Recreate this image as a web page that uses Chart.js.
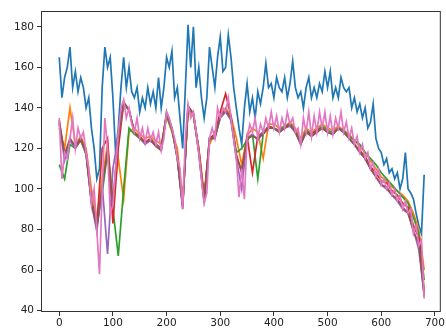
<!DOCTYPE html>
<html>
<head>
<meta charset="utf-8">
<script src="https://cdn.jsdelivr.net/npm/chart.js@4.4.1/dist/chart.umd.min.js"></script>
<style>
  html, body { margin: 0; padding: 0; background: #fff; }
</style>
</head>
<body>
<canvas id="chart" width="446" height="329"></canvas>
<script>
// sample positions
const xFine = [0, 5, 10, 15, 20, 25, 30, 35, 40, 45, 50, 55, 60, 65, 70, 75, 80, 85, 90, 95,
  100, 105, 110, 115, 120, 125, 130, 135, 140, 145, 150, 155, 160, 165, 170, 175, 180, 185, 190, 195,
  200, 205, 210, 215, 220, 225, 230, 235, 240, 245, 250, 255, 260, 265, 270, 275, 280, 285, 290, 295,
  300, 305, 310, 315, 320, 325, 330, 335, 340, 345, 350, 355, 360, 365, 370, 375, 380, 385, 390, 395,
  400, 405, 410, 415, 420, 425, 430, 435, 440, 445, 450, 455, 460, 465, 470, 475, 480, 485, 490, 495,
  500, 505, 510, 515, 520, 525, 530, 535, 540, 545, 550, 555, 560, 565, 570, 575, 580, 585, 590, 595,
  600, 605, 610, 615, 620, 625, 630, 635, 640, 645, 650, 655, 660, 665, 670, 675, 680];
const xCoarse = [0, 10, 20, 30, 40, 50, 60, 70, 80, 90, 100, 110, 120, 130, 140, 150, 160, 170, 180, 190,
  200, 210, 220, 230, 240, 250, 260, 270, 280, 290, 300, 310, 320, 330, 340, 350, 360, 370, 380, 390,
  400, 410, 420, 430, 440, 450, 460, 470, 480, 490, 500, 510, 520, 530, 540, 550, 560, 570, 580, 590,
  600, 610, 620, 630, 640, 650, 660, 670, 680];

const blueVals = [165, 145, 155, 160, 170, 150, 158, 148, 155, 150, 140, 145, 130, 120, 105, 110, 150, 170, 160, 165,
  145, 118, 130, 150, 165, 150, 160, 148, 145, 150, 138, 145, 140, 150, 142, 148, 140, 155, 140, 150,
  165, 160, 168, 145, 150, 135, 120, 150, 181, 160, 180, 150, 160, 145, 135, 145, 170, 160, 150, 165,
  175, 158, 160, 176, 165, 150, 140, 130, 122, 140, 152, 138, 145, 135, 148, 142, 150, 162, 150, 152,
  145, 155, 150, 148, 155, 145, 152, 163, 150, 145, 148, 140, 150, 155, 145, 150, 145, 152, 148, 158,
  150, 158, 145, 150, 145, 155, 150, 148, 150, 140, 145, 138, 142, 135, 140, 130, 133, 142, 125, 120,
  118, 112, 115, 108, 110, 105, 108, 100, 105, 118, 100, 98, 95, 88, 82, 78, 107];

const pinkVals = [135, 105, 118, 115, 125, 135, 120, 130, 125, 128, 118, 110, 92, 100, 80, 58, 100, 135, 120, 88,
  92, 110, 128, 140, 144, 135, 140, 132, 128, 135, 125, 130, 123, 130, 124, 128, 122, 128, 119, 125,
  138, 135, 130, 125, 115, 110, 90, 125, 142, 135, 138, 128, 118, 105, 93, 98, 125, 130, 125, 140,
  135, 140, 138, 145, 135, 125, 115, 96, 110, 95, 125, 132, 128, 135, 125, 132, 128, 135, 130, 138,
  130, 136, 128, 135, 130, 138, 132, 135, 128, 130, 122, 135, 128, 138, 126, 136, 128, 138, 130, 138,
  128, 136, 127, 135, 130, 138, 128, 133, 125, 130, 122, 126, 118, 122, 115, 118, 110, 113, 106, 110,
  102, 105, 100, 103, 97, 100, 94, 97, 90, 94, 88, 90, 78, 82, 72, 75, 46];

const orangeVals = [130, 120, 140, 122, 126, 120, 100, 85, 105, 122, 95, 115, 95, 128, 130, 127, 125, 126, 124, 122,
  136, 128, 120, 95, 138, 136, 120, 98, 122, 128, 136, 140, 136, 125, 112, 126, 130, 128, 115, 132,
  132, 130, 131, 133, 130, 125, 130, 128, 130, 132, 130, 129, 131, 129, 127, 124, 121, 118, 114, 110,
  106, 104, 101, 99, 97, 94, 88, 80, 60];

const greenVals = [112, 105, 122, 120, 124, 117, 95, 82, 98, 118, 90, 67, 100, 130, 127, 125, 123, 124, 122, 120,
  136, 129, 116, 92, 140, 137, 119, 95, 124, 126, 135, 139, 134, 118, 120, 124, 127, 105, 127, 131,
  130, 129, 131, 132, 129, 123, 129, 127, 129, 131, 129, 128, 130, 129, 126, 124, 122, 118, 115, 112,
  108, 105, 102, 99, 96, 93, 86, 78, 55];

const redVals = [133, 116, 124, 121, 124, 118, 94, 82, 120, 125, 83, 120, 142, 139, 128, 126, 123, 125, 122, 120,
  137, 130, 116, 92, 140, 137, 120, 95, 125, 127, 138, 147, 136, 117, 108, 126, 108, 126, 128, 131,
  130, 128, 130, 132, 128, 123, 128, 127, 129, 130, 128, 127, 130, 128, 125, 122, 119, 116, 111, 108,
  104, 103, 99, 97, 93, 91, 82, 76, 50];

const purpleVals = [132, 114, 124, 120, 125, 117, 93, 79, 102, 68, 110, 126, 142, 139, 128, 125, 122, 124, 122, 119,
  137, 130, 115, 90, 141, 137, 118, 93, 125, 125, 135, 138, 134, 115, 100, 125, 127, 124, 128, 130,
  130, 128, 130, 131, 128, 122, 128, 126, 128, 130, 128, 127, 130, 128, 125, 122, 118, 115, 110, 106,
  102, 100, 97, 94, 90, 88, 80, 70, 48];

const brownVals = [134, 117, 125, 121, 125, 118, 93, 81, 101, 119, 93, 127, 143, 139, 128, 125, 123, 124, 121, 119,
  138, 130, 115, 91, 141, 137, 118, 94, 125, 125, 136, 139, 135, 116, 109, 125, 126, 125, 127, 130,
  130, 128, 130, 132, 128, 122, 128, 126, 128, 130, 128, 127, 130, 128, 125, 122, 118, 115, 110, 106,
  102, 101, 97, 95, 91, 88, 79, 73, 47];

const xTickVals = [0, 100, 200, 300, 400, 500, 600, 700];
const yTickVals = [40, 60, 80, 100, 120, 140, 160, 180];

function pts(xs, ys) {
  return ys.map((y, i) => ({ x: xs[i], y: y }));
}

function series(xs, ys, color, order) {
  return {
    data: pts(xs, ys),
    borderColor: color,
    borderWidth: 1.7,
    pointRadius: 0,
    tension: 0,
    fill: false,
    order: order
  };
}

// box around the axes, like matplotlib spines
const frame = {
  id: 'frame',
  afterDatasetsDraw(chart) {
    const { ctx, chartArea: a } = chart;
    ctx.save();
    ctx.strokeStyle = '#333';
    ctx.lineWidth = 1;
    ctx.strokeRect(a.left + 0.5, a.top + 0.5, a.right - a.left - 1, a.bottom - a.top - 1);
    ctx.restore();
  }
};

const tickFont = { family: 'DejaVu Sans', size: 10.5 };

new Chart(document.getElementById('chart').getContext('2d'), {
  type: 'line',
  data: {
    datasets: [
      series(xFine, blueVals, '#1f77b4', 6),
      series(xCoarse, orangeVals, '#ff7f0e', 5),
      series(xCoarse, greenVals, '#2ca02c', 4),
      series(xCoarse, redVals, '#d62728', 3),
      series(xCoarse, purpleVals, '#9467bd', 2),
      series(xCoarse, brownVals, '#8c564b', 1),
      series(xFine, pinkVals, '#e377c2', 0)
    ]
  },
  options: {
    responsive: false,
    animation: false,
    layout: { padding: { top: 11, right: 5, left: 0, bottom: 0 } },
    plugins: { legend: { display: false }, tooltip: { enabled: false } },
    scales: {
      x: {
        type: 'linear',
        min: -34,
        max: 711,
        afterBuildTicks: s => { s.ticks = xTickVals.map(v => ({ value: v })); },
        afterFit: s => { s.height = 17; },
        grid: { drawOnChartArea: false, tickLength: 4, color: '#333' },
        border: { display: false },
        ticks: { color: '#222', font: tickFont, padding: 1, maxRotation: 0 }
      },
      y: {
        min: 39.3,
        max: 187.8,
        afterBuildTicks: s => { s.ticks = yTickVals.map(v => ({ value: v })); },
        afterFit: s => { s.width = 41; },
        grid: { drawOnChartArea: false, tickLength: 4, color: '#333' },
        border: { display: false },
        ticks: { color: '#222', font: tickFont, padding: 3 }
      }
    }
  },
  plugins: [frame]
});
</script>
</body>
</html>
